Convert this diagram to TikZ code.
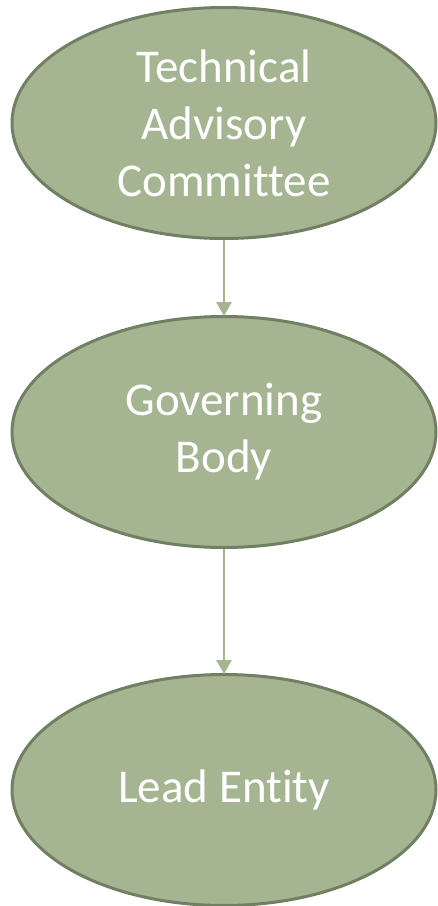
\documentclass[tikz,border=0pt]{standalone}
\usepackage{fontspec}
\setmainfont{Carlito}[Ligatures=NoCommon]
\definecolor{fillg}{HTML}{A5B592}
\definecolor{edgeg}{HTML}{717F62}
\definecolor{arrg}{HTML}{A5B592}
\usetikzlibrary{shapes.geometric,arrows.meta}
\begin{document}
\begin{tikzpicture}[x=1pt,y=1pt,
  oval/.style={ellipse, draw=edgeg, fill=fillg, line width=3pt,
    minimum width=424pt, minimum height=231pt, inner sep=0pt,
    text=white, font=\fontsize{47}{57}\selectfont, align=center},
  conn/.style={draw=arrg, line width=2.5pt, -{Triangle[length=14pt,width=15pt]}, shorten >=-1pt}]
\useasboundingbox (0,0) rectangle (438,-906);
\node[oval] (tac) at (224,-123) {Technical\\Advisory\\Committee};
\node[oval] (gb) at (224,-432) {Governing\\Body};
\node[oval] (le) at (224,-790) {Lead Entity};
\draw[conn] (tac) -- (gb);
\draw[conn] (gb) -- (le);
\end{tikzpicture}
\end{document}
